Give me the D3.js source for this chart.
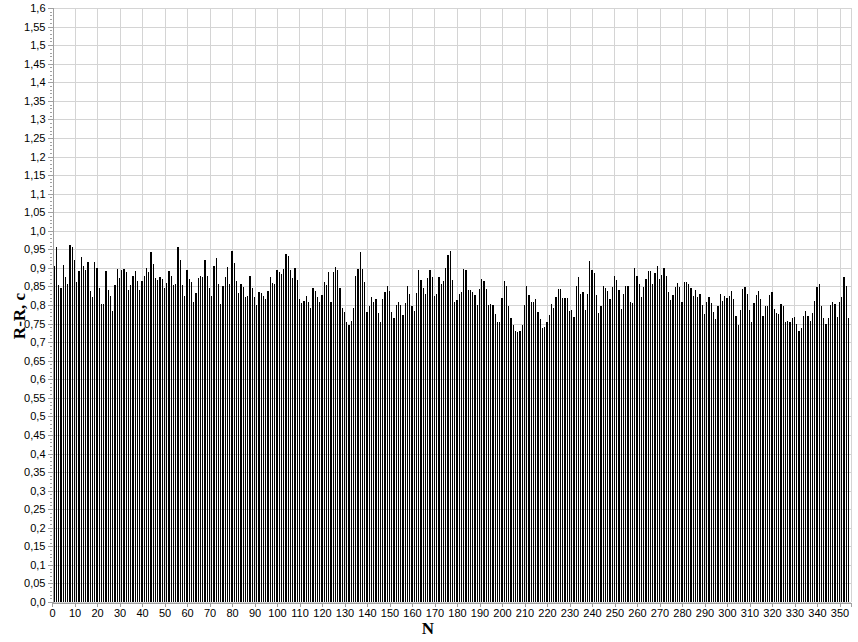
<!DOCTYPE html>
<html><head><meta charset="utf-8">
<script src="https://cdn.jsdelivr.net/npm/d3@7"></script>
<style>body{margin:0;background:#fff}svg{display:block}</style>
</head><body>
<svg id="c" width="858" height="642"></svg>
<script>
const seriesValues = [
0.905,0.957,0.854,0.846,0.908,0.876,0.856,0.962,0.956,0.921,0.862,0.892,0.929,0.905,0.895,0.916,0.837,0.821,0.916,0.901,0.846,0.803,0.803,0.892,0.841,0.825,0.785,0.854,0.896,0.873,0.894,0.896,0.889,
0.841,0.854,0.879,0.892,0.865,0.841,0.865,0.879,0.899,0.888,0.944,0.911,0.873,0.866,0.875,0.870,0.845,0.860,0.892,0.879,0.854,0.856,0.956,0.921,0.854,0.825,0.895,0.869,0.862,0.807,0.832,0.873,0.879,0.876,0.921,0.879,
0.845,0.825,0.905,0.927,0.856,0.804,0.850,0.876,0.903,0.857,0.946,0.914,0.865,0.833,0.857,0.848,0.822,0.825,0.879,0.845,0.822,0.799,0.836,0.832,0.825,0.815,0.838,0.876,0.860,0.857,0.893,0.889,0.884,0.897,0.9375,
0.932,0.895,0.873,0.900,0.868,0.817,0.806,0.812,0.825,0.809,0.791,0.846,0.838,0.822,0.809,0.828,0.862,0.854,0.889,0.809,0.888,0.903,0.895,0.846,0.793,0.782,0.755,0.745,0.757,0.793,0.877,0.897,0.943,0.896,0.862,0.782,
0.796,0.822,0.809,0.815,0.779,0.755,0.817,0.836,0.852,0.838,0.782,0.766,0.801,0.809,0.801,0.774,0.806,0.852,0.830,0.798,0.785,0.833,0.893,0.868,0.846,0.830,0.873,0.895,0.876,0.825,0.830,0.876,0.857,0.865,0.900,0.935,
0.946,0.868,0.809,0.814,0.830,0.836,0.897,0.895,0.841,0.841,0.836,0.828,0.801,0.844,0.871,0.865,0.844,0.799,0.804,0.800,0.777,0.753,0.753,0.820,0.865,0.852,0.796,0.766,0.746,0.729,0.726,0.731,0.747,0.801,0.852,
0.828,0.809,0.809,0.817,0.782,0.763,0.737,0.742,0.755,0.774,0.804,0.793,0.822,0.844,0.844,0.818,0.819,0.820,0.785,0.787,0.769,0.852,0.876,0.830,0.836,0.787,0.830,0.919,0.895,0.886,0.828,0.779,0.798,0.852,0.846,0.838,
0.817,0.849,0.879,0.868,0.841,0.790,0.830,0.852,0.852,0.809,0.806,0.900,0.879,0.857,0.822,0.849,0.871,0.892,0.892,0.857,0.887,0.905,0.871,0.881,0.900,0.879,0.836,0.814,0.828,0.849,0.860,0.849,0.809,0.862,0.862,0.857,
0.846,0.825,0.841,0.822,0.830,0.801,0.777,0.809,0.822,0.806,0.782,0.761,0.796,0.830,0.812,0.825,0.820,0.825,0.838,0.817,0.771,0.746,0.787,0.844,0.849,0.830,0.787,0.753,0.806,0.828,0.838,0.817,0.771,0.796,0.798,
0.828,0.836,0.790,0.779,0.777,0.804,0.796,0.755,0.758,0.755,0.766,0.768,0.749,0.731,0.739,0.771,0.785,0.771,0.758,0.779,0.812,0.849,0.857,0.798,0.766,0.749,0.766,0.801,0.809,0.804,0.769,0.809,0.822,0.876,0.851,0.766
];
const categories = seriesValues.map((v, i) => i + 1);
const xTickValues = [0,10,20,30,40,50,60,70,80,90,100,110,120,130,140,150,160,170,180,190,200,210,220,230,240,250,260,270,280,290,300,310,320,330,340,350];
const yTickValues = [0,0.05,0.1,0.15,0.2,0.25,0.3,0.35,0.4,0.45,0.5,0.55,0.6,0.65,0.7,0.75,0.8,0.85,0.9,0.95,1.0,1.05,1.1,1.15,1.2,1.25,1.3,1.35,1.4,1.45,1.5,1.55,1.6];
const yTickLabels = ["0,0","0,05","0,1","0,15","0,2","0,25","0,3","0,35","0,4","0,45","0,5","0,55","0,6","0,65","0,7","0,75","0,8","0,85","0,9","0,95","1,0","1,05","1,1","1,15","1,2","1,25","1,3","1,35","1,4","1,45","1,5","1,55","1,6"];
const xTitle = "N";
const yTitle = "R-R, c";

const svg = d3.select("#c");
const L = 52, R = 850.75, T = 8, B = 602;
const x = d3.scaleLinear().domain([0, 355]).range([L, R]);
const y = d3.scaleLinear().domain([0, 1.6]).range([B, T]);
const grid = "#d4d4d4", axisCol = "#a0a0a0";

// grid
const g = svg.append("g").attr("shape-rendering", "crispEdges");
g.selectAll(".hg").data(yTickValues).join("line")
  .attr("x1", L).attr("x2", R).attr("y1", d => Math.round(y(d)) + 0.5).attr("y2", d => Math.round(y(d)) + 0.5)
  .attr("stroke", grid);
g.selectAll(".vg").data(xTickValues.slice(1)).join("line")
  .attr("x1", d => Math.round(x(d)) + 0.5).attr("x2", d => Math.round(x(d)) + 0.5).attr("y1", T).attr("y2", B)
  .attr("stroke", grid);
g.append("line").attr("x1", Math.round(R) + 0.5).attr("x2", Math.round(R) + 0.5).attr("y1", T).attr("y2", B).attr("stroke", grid);

// bars
svg.append("g").attr("shape-rendering", "crispEdges")
  .selectAll("rect").data(categories).join("rect")
  .attr("x", d => x(d) - 0.6).attr("width", 1.2)
  .attr("y", (d, i) => y(seriesValues[i]))
  .attr("height", (d, i) => B - y(seriesValues[i]))
  .attr("fill", "#000");

// y axis
const yAxis = d3.axisLeft(y).tickValues(yTickValues).tickSize(5).tickPadding(2)
  .tickFormat((d, i) => yTickLabels[i]);
const ya = svg.append("g").attr("transform", `translate(${L + 0.5},0)`).call(yAxis);
ya.select(".domain").attr("stroke", axisCol).attr("shape-rendering", "crispEdges");
ya.selectAll(".tick line").attr("stroke", axisCol).attr("shape-rendering", "crispEdges");
ya.selectAll("text").attr("font-family", "Liberation Sans, Arial, sans-serif").attr("font-size", 11).attr("fill", "#000");
// minor y ticks
const minor = d3.range(0, 161).map(k => k / 100).filter(v => Math.round(v * 100) % 5 !== 0);
svg.append("g").attr("shape-rendering", "crispEdges").selectAll("line").data(minor).join("line")
  .attr("x1", L - 2).attr("x2", L).attr("y1", d => Math.round(y(d)) + 0.5).attr("y2", d => Math.round(y(d)) + 0.5)
  .attr("stroke", axisCol);

// x axis
const xAxis = d3.axisBottom(x).tickValues(xTickValues).tickSize(4).tickPadding(3).tickFormat(d => String(d));
const xa = svg.append("g").attr("transform", `translate(0,${B + 0.5})`).call(xAxis);
xa.select(".domain").attr("stroke", axisCol).attr("shape-rendering", "crispEdges");
xa.selectAll(".tick line").attr("stroke", axisCol).attr("shape-rendering", "crispEdges");
xa.selectAll("text").attr("font-family", "Liberation Sans, Arial, sans-serif").attr("font-size", 11).attr("fill", "#000");

// titles
svg.append("text").attr("x", 428).attr("y", 634).attr("text-anchor", "middle")
  .attr("font-family", "Liberation Serif, Times New Roman, serif").attr("font-weight", "bold").attr("font-size", 17)
  .text(xTitle);
svg.append("text").attr("transform", "translate(25,316) rotate(-90)").attr("text-anchor", "middle")
  .attr("font-family", "Liberation Serif, Times New Roman, serif").attr("font-weight", "bold").attr("font-size", 17)
  .text(yTitle);
</script>
</body></html>
